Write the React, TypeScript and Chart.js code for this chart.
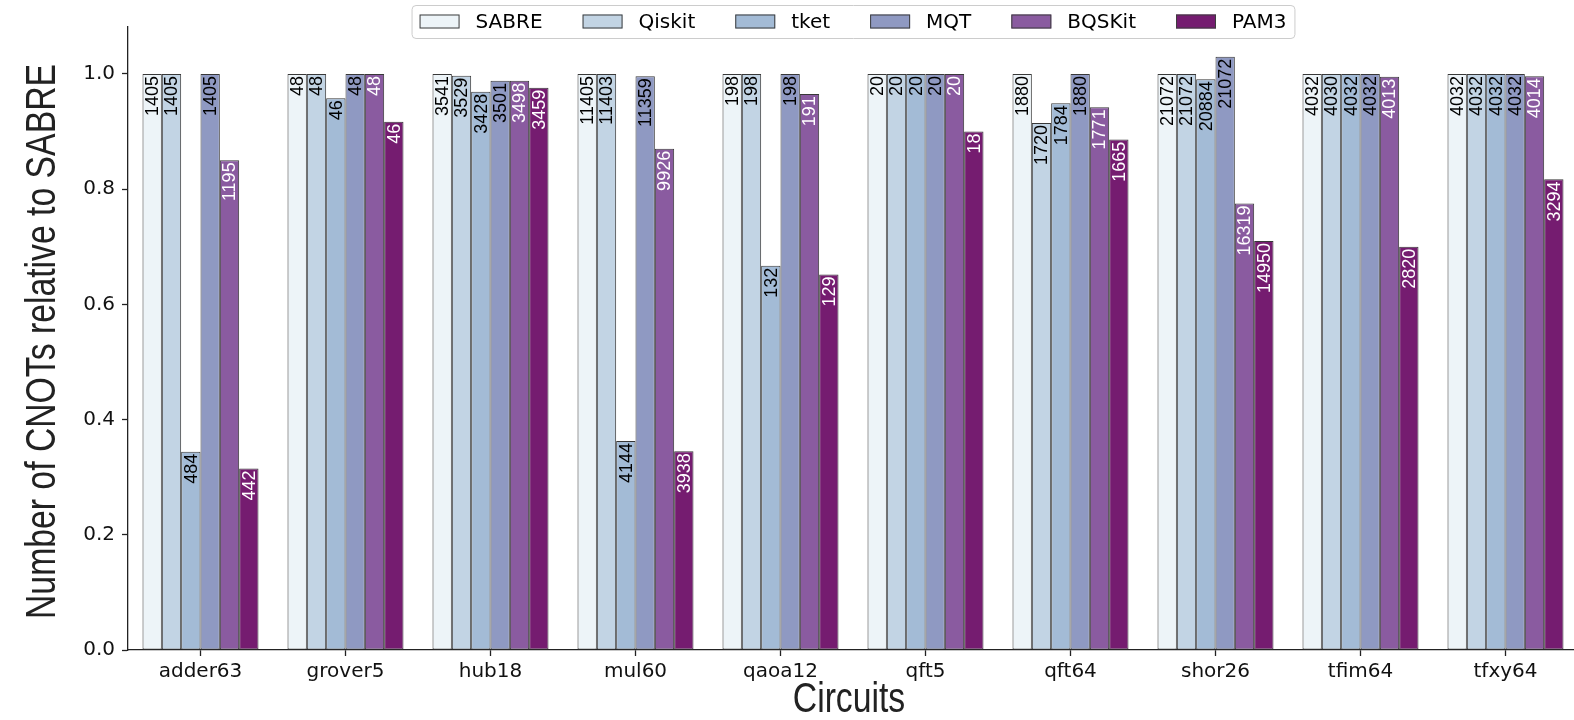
import React, { useEffect, useRef } from 'react';
import { Chart, registerables } from 'chart.js';
Chart.register(...registerables);

const categories = ['adder63', 'grover5', 'hub18', 'mul60', 'qaoa12', 'qft5', 'qft64', 'shor26', 'tfim64', 'tfxy64'];
const seriesNames = ['SABRE', 'Qiskit', 'tket', 'MQT', 'BQSKit', 'PAM3'];
const seriesColors = ['#edf4f8', '#c2d4e4', '#a3bbd6', '#8f99c2', '#8a5ba0', '#751c70'];
const labelColors = ['#000000', '#000000', '#000000', '#000000', '#ffffff', '#ffffff'];

// bar heights (relative to SABRE)
const sabreHeights = [1.0, 1.0, 1.0, 1.0, 1.0, 1.0, 1.0, 1.0, 1.0, 1.0];
const qiskitHeights = [1.0, 1.0, 0.997, 1.0, 1.0, 1.0, 0.915, 1.0, 1.0, 1.0];
const tketHeights = [0.344, 0.958, 0.969, 0.363, 0.667, 1.0, 0.949, 0.991, 1.0, 1.0];
const mqtHeights = [1.0, 1.0, 0.988, 0.996, 1.0, 1.0, 1.0, 1.03, 1.0, 1.0];
const bqskitHeights = [0.85, 1.0, 0.988, 0.87, 0.965, 1.0, 0.942, 0.775, 0.995, 0.996];
const pam3Heights = [0.315, 0.917, 0.976, 0.345, 0.652, 0.9, 0.886, 0.71, 0.7, 0.817];

// CNOT counts printed on bars
const sabreCounts = [1405, 48, 3541, 11405, 198, 20, 1880, 21072, 4032, 4032];
const qiskitCounts = [1405, 48, 3529, 11403, 198, 20, 1720, 21072, 4030, 4032];
const tketCounts = [484, 46, 3428, 4144, 132, 20, 1784, 20884, 4032, 4032];
const mqtCounts = [1405, 48, 3501, 11359, 198, 20, 1880, 21072, 4032, 4032];
const bqskitCounts = [1195, 48, 3498, 9926, 191, 20, 1771, 16319, 4013, 4014];
const pam3Counts = [442, 46, 3459, 3938, 129, 18, 1665, 14950, 2820, 3294];

const yTicks = [0, 0.2, 0.4, 0.6, 0.8, 1.0];
const yMax = 1.0815;
const yTitle = 'Number of CNOTs relative to SABRE';
const xTitle = 'Circuits';

const heights = [sabreHeights, qiskitHeights, tketHeights, mqtHeights, bqskitHeights, pam3Heights];
const counts = [sabreCounts, qiskitCounts, tketCounts, mqtCounts, bqskitCounts, pam3Counts];

export default function App() {
  const ref = useRef<HTMLCanvasElement | null>(null);

  useEffect(() => {
    const canvas = ref.current;
    if (!canvas) return;
    const titleFont = "42px 'Liberation Sans', Arial, sans-serif";

    const titlePlugin = {
      id: 'axisTitles',
      afterDraw(chart: any) {
        const ctx = chart.ctx as CanvasRenderingContext2D;
        const area = chart.chartArea;
        ctx.save();
        ctx.font = titleFont;
        const squeeze = 555 / ctx.measureText(yTitle).width;
        ctx.fillStyle = '#222';
        ctx.textAlign = 'center';
        ctx.textBaseline = 'alphabetic';
        // x title
        ctx.save();
        ctx.translate((area.left + area.right) / 2 - 4, 712);
        ctx.scale(squeeze, 1);
        ctx.fillText(xTitle, 0, 0);
        ctx.restore();
        // y title
        ctx.save();
        ctx.translate(55, (area.top + area.bottom) / 2 + 3);
        ctx.rotate(-Math.PI / 2);
        ctx.scale(squeeze, 1);
        ctx.fillText(yTitle, 0, 0);
        ctx.restore();
        ctx.restore();
      },
    };

    const legendPlugin = {
      id: 'boxLegend',
      afterDraw(chart: any) {
        const ctx = chart.ctx as CanvasRenderingContext2D;
        const area = chart.chartArea;
        ctx.save();
        ctx.font = "20px 'DejaVu Sans'";
        const handle = 40, hpad = 16, colsp = 40, bpad = 8;
        const widths = seriesNames.map((n) => ctx.measureText(n).width);
        let total = bpad * 2;
        widths.forEach((w, i) => {
          total += handle + hpad + w + (i < widths.length - 1 ? colsp : 0);
        });
        const cx = (area.left + area.right) / 2;
        const x0 = cx - total / 2;
        const top = 5, h = 33;
        ctx.beginPath();
        (ctx as any).roundRect(x0 + 0.5, top + 0.5, total, h, 4);
        ctx.fillStyle = 'rgba(255,255,255,0.8)';
        ctx.fill();
        ctx.strokeStyle = '#cccccc';
        ctx.lineWidth = 1;
        ctx.stroke();
        const cy = top + h / 2;
        let x = x0 + bpad;
        seriesNames.forEach((n, i) => {
          ctx.fillStyle = seriesColors[i];
          ctx.fillRect(x, cy - 7, handle, 14);
          ctx.strokeStyle = '#3d3d3d';
          ctx.lineWidth = 1;
          ctx.strokeRect(x + 0.5, cy - 6.5, handle - 1, 13);
          ctx.fillStyle = '#000';
          ctx.textAlign = 'left';
          ctx.textBaseline = 'middle';
          ctx.fillText(n, x + handle + hpad, cy + 1);
          x += handle + hpad + widths[i] + colsp;
        });
        ctx.restore();
      },
    };

    const barLabelPlugin = {
      id: 'barLabels',
      afterDatasetsDraw(chart: any) {
        const ctx = chart.ctx as CanvasRenderingContext2D;
        ctx.save();
        ctx.font = "18px 'Liberation Sans', Arial, sans-serif";
        chart.data.datasets.forEach((_ds: any, di: number) => {
          const meta = chart.getDatasetMeta(di);
          meta.data.forEach((el: any, j: number) => {
            const { x, y } = el.getProps(['x', 'y'], true);
            ctx.save();
            ctx.translate(x, y + 2);
            ctx.rotate(-Math.PI / 2);
            ctx.textAlign = 'right';
            ctx.textBaseline = 'middle';
            ctx.fillStyle = labelColors[di];
            ctx.fillText(String(counts[di][j]), 0, 1);
            ctx.restore();
          });
        });
        ctx.restore();
      },
    };

    const chart = new Chart(canvas, {
      type: 'bar',
      data: {
        labels: categories,
        datasets: seriesNames.map((name, i) => ({
          label: name,
          data: heights[i],
          backgroundColor: seriesColors[i],
          borderColor: '#383838',
          borderWidth: 1,
          borderSkipped: false,
          categoryPercentage: 0.8,
          barPercentage: 1.0,
        })),
      },
      options: {
        responsive: false,
        animation: false,
        devicePixelRatio: 1,
        layout: { padding: { top: 27, left: 0, right: 0, bottom: 0 } },
        plugins: { legend: { display: false }, tooltip: { enabled: false } },
        scales: {
          x: {
            type: 'category',
            offset: true,
            grid: { offset: false, drawOnChartArea: false, drawTicks: true, tickLength: 6, tickColor: '#222', tickWidth: 1.3 },
            border: { display: true, color: '#222', width: 1.3 },
            ticks: { font: { family: "'DejaVu Sans'", size: 20 }, color: '#111', padding: 4, maxRotation: 0, autoSkip: false },
            afterFit: (s: any) => {
              s.height = 70;
            },
          },
          y: {
            min: 0,
            max: yMax,
            afterBuildTicks: (s: any) => {
              s.ticks = yTicks.map((v) => ({ value: v }));
            },
            grid: { drawOnChartArea: false, drawTicks: true, tickLength: 6, tickColor: '#222', tickWidth: 1.3 },
            border: { display: true, color: '#222', width: 1.3 },
            ticks: {
              font: { family: "'DejaVu Sans'", size: 20 },
              color: '#111',
              padding: 7,
              callback: (v: any) => Number(v).toFixed(1),
            },
            afterFit: (s: any) => {
              s.width = 128;
            },
          },
        },
      },
      plugins: [barLabelPlugin, legendPlugin, titlePlugin],
    } as any);

    return () => {
      chart.destroy();
    };
  }, []);

  return (
    <div style={{ position: 'fixed', left: 0, top: 0, width: 1574, height: 720, overflow: 'hidden', background: '#fff' }}>
      <canvas ref={ref} width={1578} height={720} style={{ display: 'block', width: '1578px', height: '720px' }} />
    </div>
  );
}
